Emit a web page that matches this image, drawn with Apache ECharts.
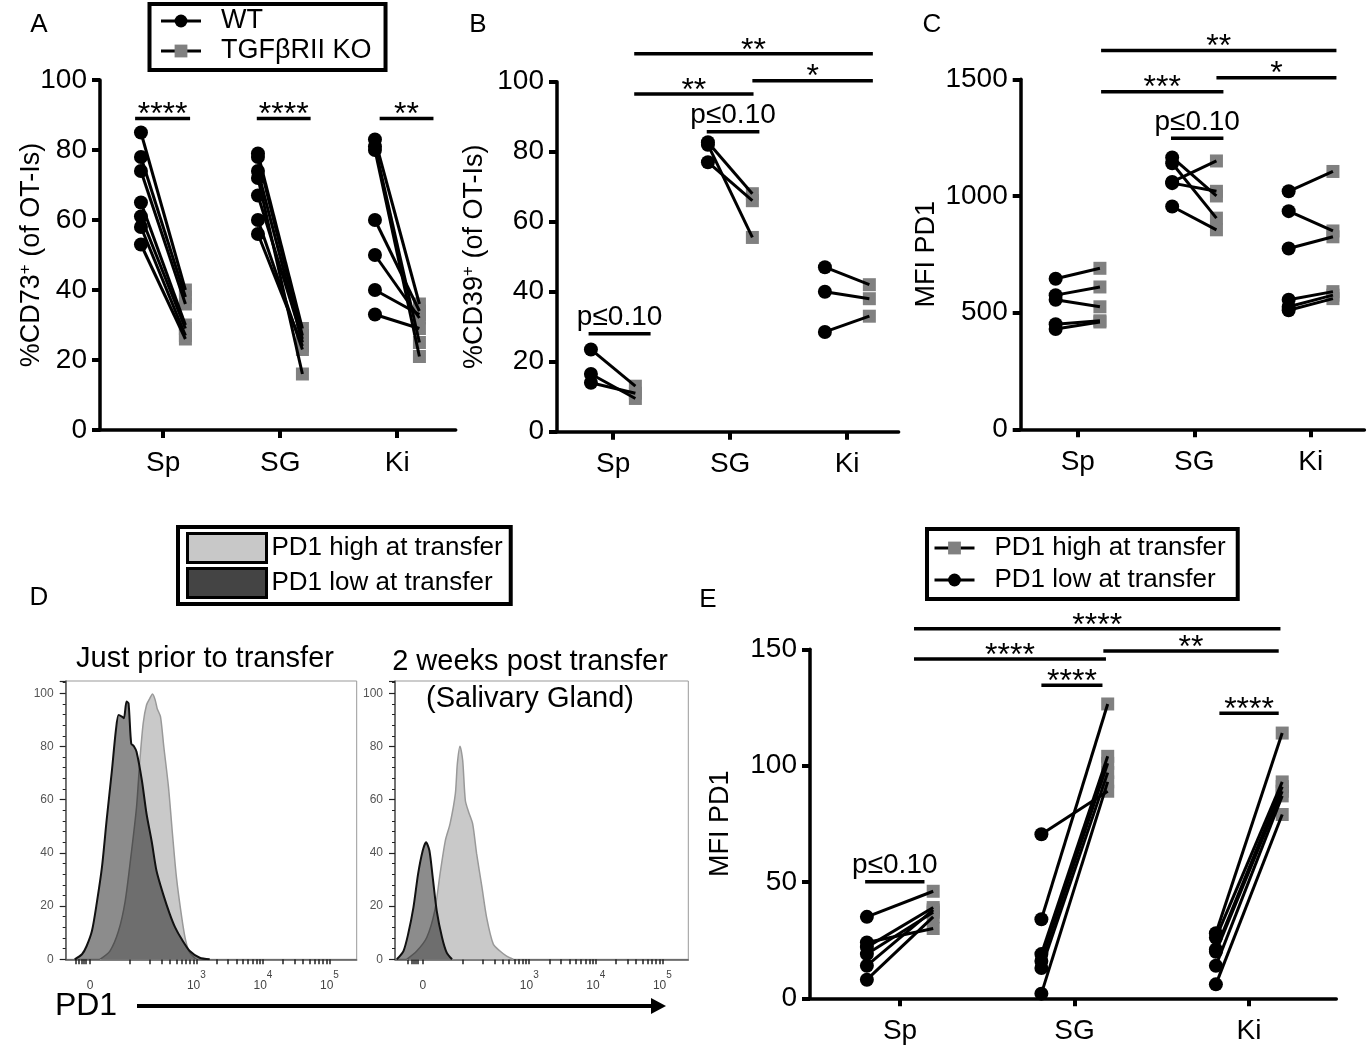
<!DOCTYPE html>
<html>
<head>
<meta charset="utf-8">
<title>CD73 / CD39 / PD1 on OT-I cells</title>
<script src="https://cdn.jsdelivr.net/npm/echarts@6/dist/echarts.min.js"></script>
<style>
html, body { margin: 0; padding: 0; background: #fff; }
#main { width: 1371px; height: 1050px; }
</style>
</head>
<body>
<div id="main"></div>
<script>
var FONT = 'Liberation Sans, Arial, sans-serif';
var organs = ['Sp', 'SG', 'Ki'];

// A: %CD73+ (of OT-Is), per organ: WT and paired TGFbRII KO
var cd73Wt = [[85, 78, 74, 65, 61, 58, 53], [79, 78, 74, 72, 67, 60, 56], [83, 81, 80, 60, 50, 40, 33]];
var cd73Ko = [[40, 38, 36, 30, 29, 27, 26], [29, 27, 25, 16, 26, 23, 24], [36, 25, 21, 34, 32, 33, 29]];
var cd73Bars = [[-0.24, 0.23, 89], [0.8, 1.26, 89], [1.85, 2.31, 89]];
var cd73BarText = ['****', '****', '**'];

// B: %CD39+ (of OT-Is)
var cd39Wt = [[23.5, 16.5, 14], [82.7, 82, 77], [47, 40, 28.5]];
var cd39Ko = [[13, 9.5, 11], [68, 55.5, 66], [42, 38, 33]];
var cd39Bars = [[-0.21, 0.32, 28], [0.8, 1.25, 85.7], [0.18, 1.2, 96.5], [1.19, 2.22, 100.3], [0.18, 2.22, 108]];
var cd39BarText = ['p≤0.10', 'p≤0.10', '**', '*', '**'];

// C: MFI PD1
var pd1Wt = [[645, 575, 555, 450, 430], [1165, 1140, 1060, 1055, 955], [1020, 935, 775, 555, 525, 510]];
var pd1Ko = [[690, 610, 525, 465, 460], [1000, 905, 1150, 1020, 855], [1105, 850, 825, 590, 575, 560]];
var pd1Bars = [[0.8, 1.25, 1247], [0.2, 1.25, 1447], [1.19, 2.22, 1507], [0.2, 2.22, 1623]];
var pd1BarText = ['p≤0.10', '***', '*', '**'];

// E: MFI PD1, PD1 low vs PD1 high at transfer
var eLow = [[35, 24, 22, 19, 14, 8], [70.5, 34, 19, 16, 13, 2], [28, 26, 21, 20, 14, 6]];
var eHigh = [[46, 30, 39, 37, 38, 35], [89, 126.5, 104, 101, 97, 93], [114, 93, 91, 89, 87, 79]];
var eBars = [[-0.2, 0.14, 50.1], [0.81, 1.16, 134.6], [1.83, 2.17, 122.5], [0.08, 1.18, 145.8], [1.165, 2.17, 149.3], [0.08, 2.18, 158.8]];
var eBarText = ['p≤0.10', '****', '****', '****', '**', '****'];

// D: PD1 histograms (% of max), x in display decades
var preLowX = [-0.23, -0.12, -0.05, 0.03, 0.10, 0.18, 0.25, 0.33, 0.39, 0.43, 0.48, 0.51, 0.55, 0.58, 0.62, 0.66, 0.70, 0.78, 0.85, 0.93, 1.00, 1.10, 1.20, 1.28, 1.38, 1.50, 1.65, 1.80];
var preLowY = [0, 1.9, 5, 10.7, 20.8, 34.6, 52.2, 71, 86.2, 91.8, 91.2, 90.6, 96.9, 96.2, 81.1, 80.1, 78, 67.3, 54.7, 44, 33.3, 24.5, 17, 12, 7.5, 3.1, 0.6, 0];
var preHighX = [0.15, 0.30, 0.43, 0.53, 0.62, 0.70, 0.75, 0.80, 0.85, 0.90, 0.94, 0.98, 1.01, 1.06, 1.11, 1.18, 1.24, 1.30, 1.38, 1.44, 1.50, 1.60];
var preHighY = [0, 3.1, 10.7, 22, 39.6, 57.2, 74.8, 88.7, 95.6, 98.1, 99.7, 97.5, 94.3, 91.2, 79.9, 64.8, 47.2, 30.8, 15.7, 6.9, 2.5, 0];
var postLowX = [-0.39, -0.29, -0.22, -0.14, -0.07, 0, 0.05, 0.10, 0.15, 0.21, 0.29, 0.36, 0.44];
var postLowY = [0, 3.1, 9.4, 19.5, 32.1, 40.9, 44, 40.9, 30.8, 18.2, 8.2, 2.5, 0];
var postHighX = [-0.24, -0.09, 0.06, 0.18, 0.26, 0.34, 0.41, 0.49, 0.52, 0.56, 0.60, 0.64, 0.69, 0.75, 0.81, 0.89, 0.96, 1.06, 1.16, 1.26, 1.36];
var postHighY = [0, 3.1, 8.2, 18.2, 32.1, 44.7, 50.9, 62.3, 73.6, 80.1, 74.8, 59.7, 55.3, 50.9, 39.6, 27, 15.7, 5.7, 3.1, 1.2, 0];

var decadePos = [0, 1.6, 2.6, 3.6];
var decadeText = ['{n|0}', '{n|10}{s|3}', '{n|10}{s|4}', '{n|10}{s|5}'];

var OFF = 0.19;

// log-style tick marks on the PD1 axis
var dTicks = [-0.22, -0.17, -0.13, -0.1, -0.07, 0];
[0.6, 1.6, 2.6].forEach(function (d) {
    dTicks.push(d);
    for (var k = 2; k < 10; k++) dTicks.push(d + Math.log10(k));
});
dTicks.push(3.6);

var myChart = echarts.init(document.getElementById('main'));

function zip(xs, ys) {
    return xs.map(function (x, i) { return [x, ys[i]]; });
}

function barRenderer(texts) {
    return function (params, api) {
        var p1 = api.coord([api.value(0), api.value(2)]);
        var p2 = api.coord([api.value(1), api.value(2)]);
        var t = texts[params.dataIndex];
        var star = t.charAt(0) === '*';
        return {
            type: 'group',
            children: [
                { type: 'line', shape: { x1: p1[0], y1: p1[1], x2: p2[0], y2: p2[1] },
                  style: { stroke: '#000', lineWidth: 3.5 } },
                { type: 'text', x: (p1[0] + p2[0]) / 2, y: p1[1] - (star ? 3 : 16),
                  style: { text: t, fontSize: star ? 32 : 28, fontFamily: FONT, fill: '#000',
                           align: 'center', verticalAlign: 'middle' } }
            ]
        };
    };
}

// one before/after panel: squares, connecting lines, dots, significance bars
function pairPanel(g, wt, ko, wtName, koName, bars, barText) {
    var wtPts = [], koPts = [], segs = [];
    for (var c = 0; c < 3; c++) {
        for (var i = 0; i < wt[c].length; i++) {
            var a = [c - OFF, wt[c][i]];
            var b = [c + OFF, ko[c][i]];
            wtPts.push(a);
            koPts.push(b);
            segs.push({ coords: [a, b] });
        }
    }
    return [
        { name: koName, type: 'line', xAxisIndex: g, yAxisIndex: g, data: koPts,
          symbol: 'rect', symbolSize: 13, lineStyle: { width: 0 }, itemStyle: { color: '#808080' }, z: 2 },
        { type: 'lines', coordinateSystem: 'cartesian2d', xAxisIndex: g, yAxisIndex: g, data: segs,
          lineStyle: { color: '#000', width: 3, opacity: 1 }, z: 3 },
        { name: wtName, type: 'line', xAxisIndex: g, yAxisIndex: g, data: wtPts,
          symbol: 'circle', symbolSize: 14, lineStyle: { width: 0 }, itemStyle: { color: '#000' }, z: 4 },
        { type: 'custom', xAxisIndex: g, yAxisIndex: g, data: bars, encode: { x: [0, 1], y: 2 },
          renderItem: barRenderer(barText), clip: false, z: 5 }
    ];
}

function organAxis(g, min, max) {
    return {
        type: 'value', gridIndex: g, min: min, max: max,
        axisLine: { show: true, onZero: false, lineStyle: { color: '#000', width: 3.5 } },
        axisTick: { show: true, customValues: [0, 1, 2], length: 8, lineStyle: { color: '#000', width: 4 } },
        axisLabel: { customValues: [0, 1, 2], formatter: function (v) { return organs[Math.round(v)]; },
                     fontSize: 28, fontFamily: FONT, color: '#000', margin: 19 },
        splitLine: { show: false }
    };
}

var supRich = {
    n: { fontSize: 27, fontFamily: FONT, color: '#000', lineHeight: 30 },
    sup: { fontSize: 17, fontFamily: FONT, color: '#000', verticalAlign: 'top' }
};

function measureAxis(g, max, step, name, gap) {
    return {
        type: 'value', gridIndex: g, min: 0, max: max, interval: step,
        name: name, nameLocation: 'middle', nameGap: gap, nameMoveOverlap: false,
        nameTextStyle: { fontSize: 27, fontFamily: FONT, color: '#000', rich: supRich },
        axisLine: { show: true, onZero: false, lineStyle: { color: '#000', width: 3.5 } },
        axisTick: { show: true, length: 8, lineStyle: { color: '#000', width: 4 } },
        axisLabel: { fontSize: 28, fontFamily: FONT, color: '#000', margin: 13,
                     formatter: function (v) { return String(v); } },
        splitLine: { show: false }
    };
}

function pd1Axis(g, min, max) {
    return {
        type: 'value', gridIndex: g, min: min, max: max,
        axisLine: { show: true, onZero: false, lineStyle: { color: '#555', width: 1.5 } },
        axisTick: { show: true, customValues: dTicks, length: 5, lineStyle: { color: '#222', width: 1.5 } },
        axisLabel: {
            customValues: decadePos, margin: 11,
            formatter: function (v) {
                var best = 0;
                for (var i = 1; i < decadePos.length; i++) {
                    if (Math.abs(decadePos[i] - v) < Math.abs(decadePos[best] - v)) best = i;
                }
                return decadeText[best];
            },
            rich: {
                n: { fontSize: 12, fontFamily: FONT, color: '#444', lineHeight: 30 },
                s: { fontSize: 10, fontFamily: FONT, color: '#444', verticalAlign: 'top' }
            }
        },
        splitLine: { show: false }
    };
}

function countAxis(g) {
    return {
        type: 'value', gridIndex: g, min: 0, max: 104.6, interval: 20,
        axisLine: { show: true, onZero: false, lineStyle: { color: '#555', width: 1.5 } },
        axisTick: { show: true, length: 6, lineStyle: { color: '#222', width: 1.2 } },
        minorTick: { show: true, splitNumber: 5, length: 3, lineStyle: { color: '#222', width: 1 } },
        axisLabel: { fontSize: 12, fontFamily: FONT, color: '#555', margin: 12, showMaxLabel: false },
        splitLine: { show: false }, minorSplitLine: { show: false }
    };
}

function histo(name, g, xs, ys, dark) {
    return {
        name: name, type: 'line', xAxisIndex: g, yAxisIndex: g, data: zip(xs, ys),
        symbol: 'none', smooth: 0.25,
        lineStyle: dark ? { color: '#111', width: 2 } : { color: '#999', width: 1.5 },
        areaStyle: dark ? { color: '#000', opacity: 0.45 } : { color: '#c9c9c9', opacity: 1 },
        z: dark ? 3 : 2
    };
}

var letterStyle = { fontSize: 26, fontFamily: FONT, fill: '#000', align: 'center', verticalAlign: 'middle' };
var titleStyle = { fontSize: 29, fontFamily: FONT, fill: '#000', align: 'center', verticalAlign: 'middle' };

var legendText = { fontSize: 27, fontFamily: FONT, color: '#000', lineHeight: 28, padding: [0, 0, 0, 15] };

// grids: 0 A, 1 B, 2 C, 3 D pre, 4 D post, 5 E
var series = [].concat(
    pairPanel(5, eLow, eHigh, 'PD1 low at transfer', 'PD1 high at transfer', eBars, eBarText),
    pairPanel(0, cd73Wt, cd73Ko, 'WT', 'TGFβRII KO', cd73Bars, cd73BarText),
    pairPanel(1, cd39Wt, cd39Ko, 'WT', 'TGFβRII KO', cd39Bars, cd39BarText),
    pairPanel(2, pd1Wt, pd1Ko, 'WT', 'TGFβRII KO', pd1Bars, pd1BarText),
    [
        histo('PD1 high at transfer', 3, preHighX, preHighY, false),
        histo('PD1 low at transfer', 3, preLowX, preLowY, true),
        histo('PD1 high at transfer', 4, postHighX, postHighY, false),
        histo('PD1 low at transfer', 4, postLowX, postLowY, true)
    ]
);
series.forEach(function (s) { s.silent = true; });

var option = {
    animation: false,
    backgroundColor: '#fff',
    textStyle: { fontFamily: FONT },
    grid: [
        { left: 100, top: 80, width: 355.7, height: 350 },
        { left: 557, top: 81.7, width: 341.6, height: 350 },
        { left: 1020.7, top: 79.3, width: 343.7, height: 350 },
        { left: 65.7, top: 681, width: 291, height: 278.3, show: true, borderColor: '#999', borderWidth: 1 },
        { left: 395, top: 681, width: 293.3, height: 278.3, show: true, borderColor: '#999', borderWidth: 1 },
        { left: 810, top: 649.3, width: 526.3, height: 349 }
    ],
    xAxis: [
        organAxis(0, -0.54, 2.5),
        organAxis(1, -0.48, 2.44),
        organAxis(2, -0.49, 2.46),
        pd1Axis(3, -0.365, 4.01),
        pd1Axis(4, -0.417, 3.99),
        organAxis(5, -0.516, 2.5)
    ],
    yAxis: [
        measureAxis(0, 100, 20, '{n|%CD73}{sup|+}{n| (of OT-Is)}', 53),
        measureAxis(1, 100, 20, '{n|%CD39}{sup|+}{n| (of OT-Is)}', 67),
        measureAxis(2, 1500, 500, 'MFI PD1', 81),
        countAxis(3),
        countAxis(4),
        measureAxis(5, 150, 50, 'MFI PD1', 76)
    ],
    legend: [
        {
            data: ['WT', 'TGFβRII KO'], orient: 'vertical', left: 149.5, top: 4,
            padding: [3, 14, 5, 10], itemGap: 2, itemWidth: 40, itemHeight: 16,
            borderColor: '#000', borderWidth: 4, selectedMode: false,
            lineStyle: { color: '#000', width: 3, opacity: 1 }, textStyle: legendText
        },
        {
            data: [
                { name: 'PD1 high at transfer', icon: 'rect', itemStyle: { color: '#c8c8c8', borderColor: '#000', borderWidth: 3 } },
                { name: 'PD1 low at transfer', icon: 'rect', itemStyle: { color: '#444', borderColor: '#000', borderWidth: 3 } }
            ],
            orient: 'vertical', left: 178, top: 527, padding: [5, 8, 5, 8], itemGap: 3,
            itemWidth: 79, itemHeight: 29, borderColor: '#000', borderWidth: 4, selectedMode: false,
            textStyle: { fontSize: 26, fontFamily: FONT, color: '#000', lineHeight: 29 }
        },
        {
            data: ['PD1 high at transfer', 'PD1 low at transfer'], orient: 'vertical', left: 927, top: 529,
            padding: [4, 12, 4, 6], itemGap: 2, itemWidth: 40, itemHeight: 16,
            borderColor: '#000', borderWidth: 4, selectedMode: false,
            lineStyle: { color: '#000', width: 3, opacity: 1 },
            textStyle: { fontSize: 26, fontFamily: FONT, color: '#000', lineHeight: 30, padding: [0, 0, 0, 15] }
        }
    ],
    graphic: [
        { type: 'text', x: 39, y: 25, style: Object.assign({ text: 'A' }, letterStyle) },
        { type: 'text', x: 478, y: 25, style: Object.assign({ text: 'B' }, letterStyle) },
        { type: 'text', x: 932, y: 25, style: Object.assign({ text: 'C' }, letterStyle) },
        { type: 'text', x: 39, y: 598, style: Object.assign({ text: 'D' }, letterStyle) },
        { type: 'text', x: 708, y: 600, style: Object.assign({ text: 'E' }, letterStyle) },
        { type: 'text', x: 205, y: 659, style: Object.assign({ text: 'Just prior to transfer' }, titleStyle) },
        { type: 'text', x: 530, y: 662, style: Object.assign({ text: '2 weeks post transfer' }, titleStyle) },
        { type: 'text', x: 530, y: 699, style: Object.assign({ text: '(Salivary Gland)' }, titleStyle) },
        { type: 'text', x: 86, y: 1006, style: { text: 'PD1', fontSize: 32, fontFamily: FONT, fill: '#000', align: 'center', verticalAlign: 'middle' } },
        { type: 'line', shape: { x1: 137, y1: 1006, x2: 654, y2: 1006 }, style: { stroke: '#000', lineWidth: 4 } },
        { type: 'polygon', shape: { points: [[651, 998], [666, 1006], [651, 1014]] }, style: { fill: '#000' } }
    ],
    series: series
};

myChart.setOption(option);
</script>
</body>
</html>
